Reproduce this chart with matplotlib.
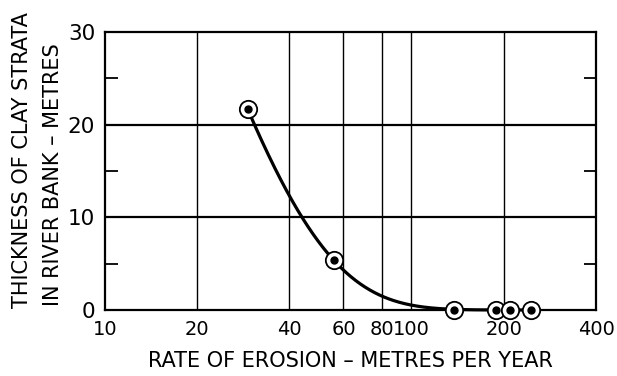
import numpy as np
import matplotlib
matplotlib.use("Agg")
import matplotlib.pyplot as plt
from matplotlib.ticker import FixedLocator, NullFormatter, NullLocator

# data
erosion_rate = [29.2, 55.7, 138, 189, 209, 245]   # metres per year
clay_thickness = [21.7, 5.4, 0.0, 0.0, 0.0, 0.0]  # metres

x_ticks = [10, 20, 40, 60, 80, 100, 200, 400]
x_tick_labels = ["10", "20", "40", "60", "80", "100", "200", "400"]
y_ticks = [0, 10, 20, 30]
y_minor_ticks = [5, 15, 25]

plt.rcParams["font.family"] = ["DejaVu Sans"]

fig = plt.figure(figsize=(6.17, 3.76), dpi=100)
ax = fig.add_axes([0.170, 0.1755, 0.796, 0.7395])

ax.set_xscale("log")
ax.set_xlim(10, 400)
ax.set_ylim(0, 30)

# grid: thin verticals, heavier horizontals
for xv in x_ticks[1:-1]:
    ax.axvline(xv, color="black", lw=1.0, zorder=1)
for yv in y_ticks[1:-1]:
    ax.axhline(yv, color="black", lw=1.6, zorder=1)

# trend curve: exponential decay fitted through the first two points
x1, x2 = erosion_rate[0], erosion_rate[1]
y1, y2 = clay_thickness[0], clay_thickness[1]
b = np.log(y1 / y2) / (x2 - x1)
xc = np.geomspace(x1, erosion_rate[-1], 300)
yc = y1 * np.exp(-b * (xc - x1))
ax.plot(xc, yc, color="black", lw=2.3, zorder=3, clip_on=False)

# circled-dot markers
ax.plot(erosion_rate, clay_thickness, linestyle="none", marker="o", ms=12.5,
        mfc="white", mec="black", mew=1.3, zorder=4, clip_on=False)
ax.plot(erosion_rate, clay_thickness, linestyle="none", marker="o", ms=5,
        color="black", zorder=5, clip_on=False)

ax.xaxis.set_major_locator(FixedLocator(x_ticks))
ax.set_xticklabels(x_tick_labels)
ax.xaxis.set_minor_locator(NullLocator())
ax.xaxis.set_minor_formatter(NullFormatter())
ax.tick_params(axis="x", which="major", length=0, pad=7, labelsize=14)

ax.set_yticks(y_ticks)
ax.yaxis.set_minor_locator(FixedLocator(y_minor_ticks))
ax.tick_params(axis="y", which="major", length=0, pad=7, labelsize=15.5)
ax.tick_params(axis="y", which="minor", direction="in", length=9, width=1.3,
               left=True, right=True)

for s in ax.spines.values():
    s.set_linewidth(1.6)

ax.set_xlabel("RATE OF EROSION – METRES PER YEAR", fontsize=15, labelpad=9)
fig.text(0.036, 0.574, "THICKNESS OF CLAY STRATA", rotation=90,
         ha="center", va="center", fontsize=15)
fig.text(0.086, 0.535, "IN RIVER BANK – METRES", rotation=90,
         ha="center", va="center", fontsize=15)

fig.savefig("out.png", dpi=100)
plt.close(fig)
